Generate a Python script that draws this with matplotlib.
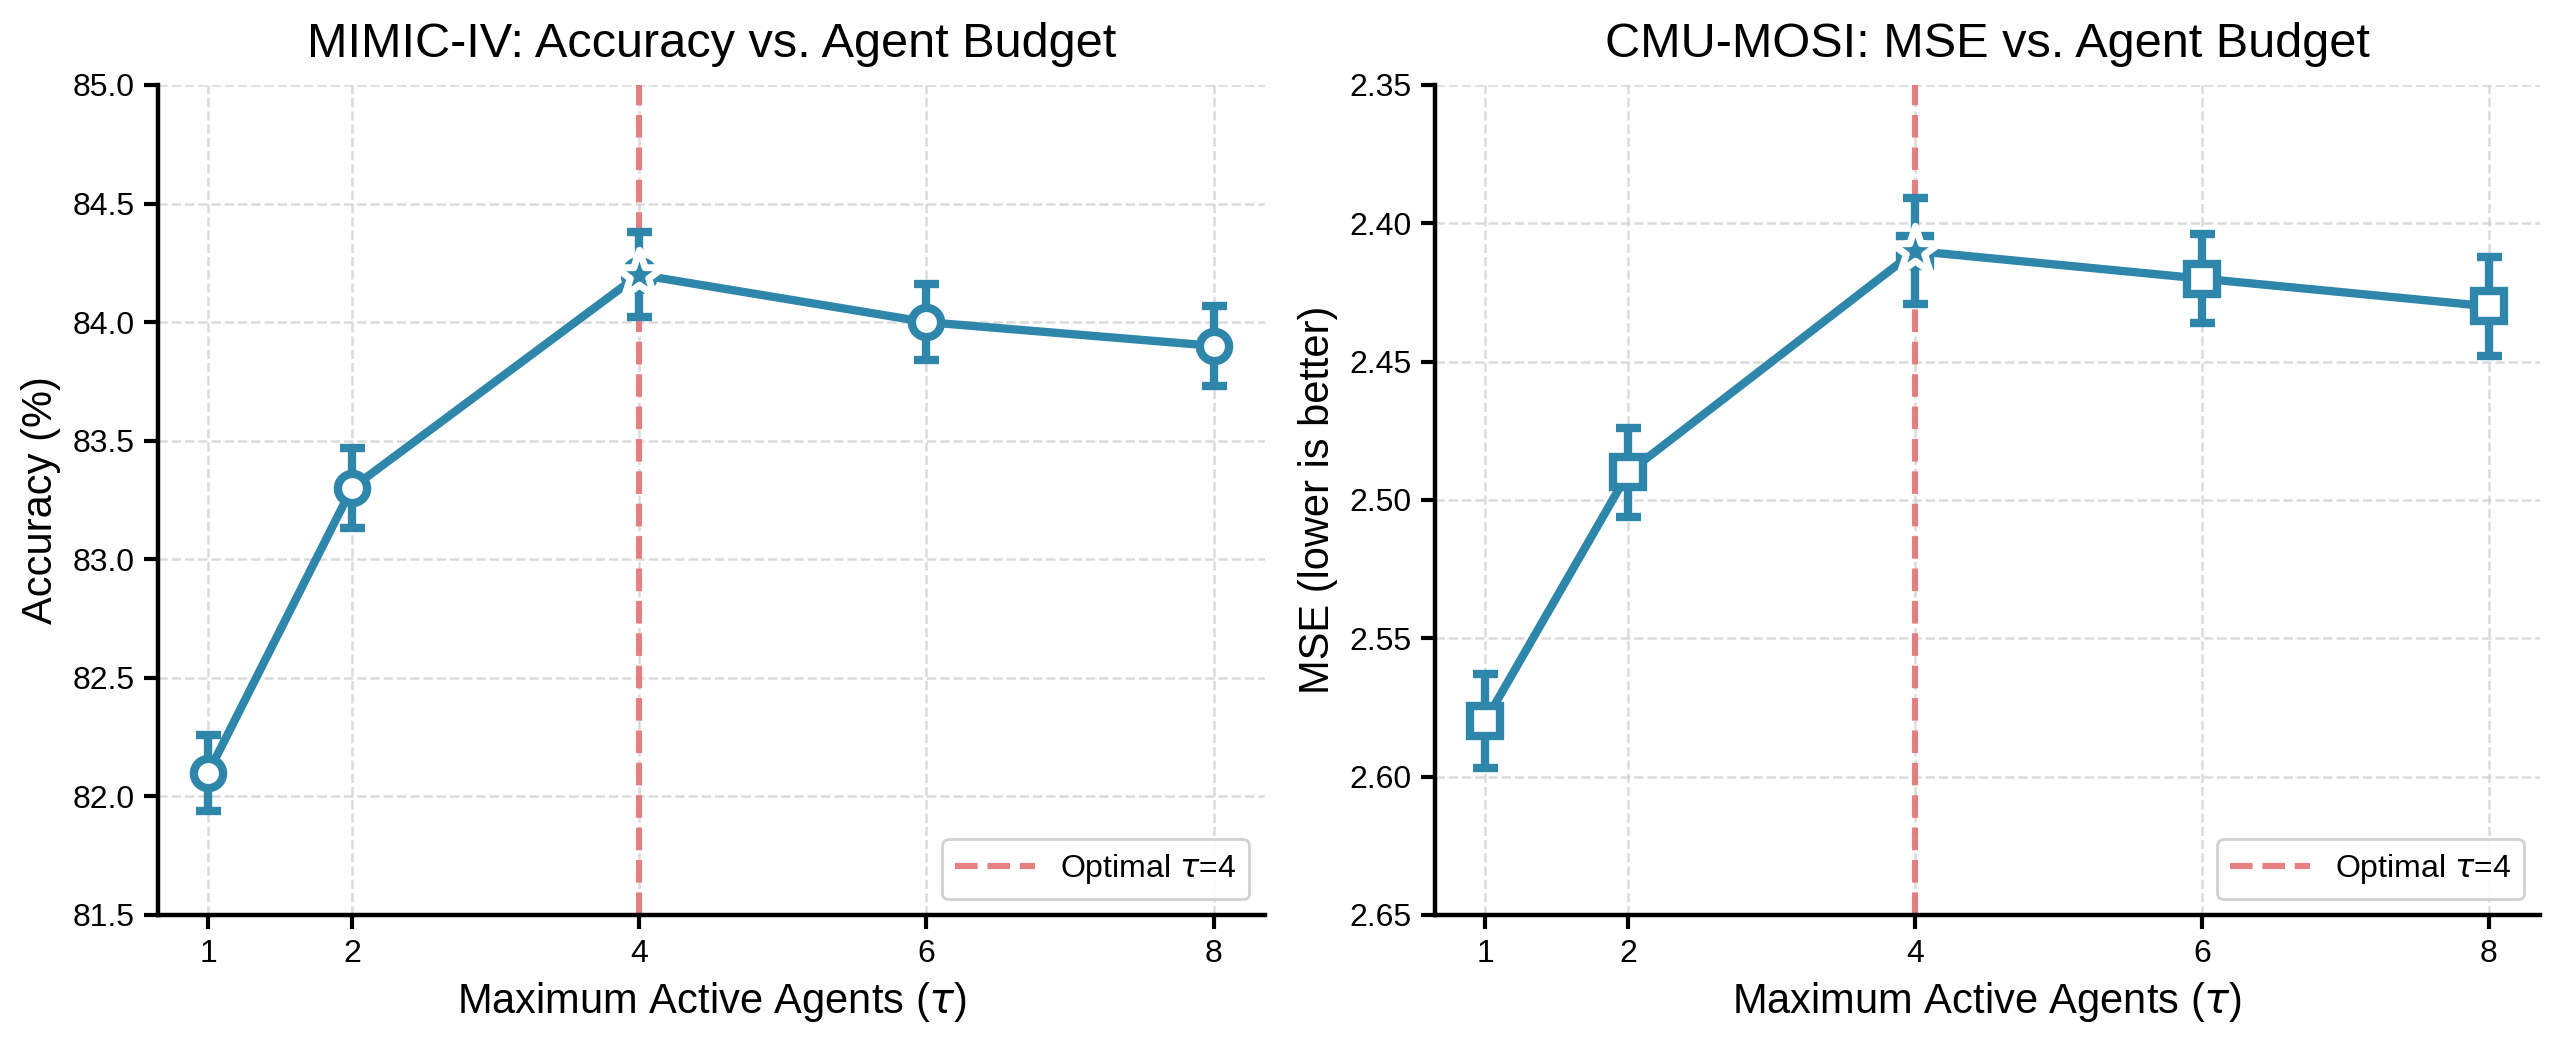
import numpy as np
import matplotlib
matplotlib.use("Agg")
import matplotlib.pyplot as plt

plt.rcParams['font.family'] = ['Liberation Sans', 'DejaVu Sans']
plt.rcParams['mathtext.fontset'] = 'dejavusans'

budgets = [1, 2, 4, 6, 8]
tick_labels = ['1', '2', '4', '6', '8']

mimic_acc = [82.1, 83.3, 84.2, 84.0, 83.9]
mimic_err = [0.16, 0.17, 0.18, 0.16, 0.17]

mosi_mse = [2.58, 2.49, 2.41, 2.42, 2.43]
mosi_err = [0.017, 0.016, 0.019, 0.016, 0.018]

best_tau = 4

blue = '#2E86AB'
red = '#E57373'

fig = plt.figure(figsize=(12.785, 5.22), dpi=200)
ax1 = fig.add_axes([0.0618, 0.1236, 0.4330, 0.795])
ax2 = fig.add_axes([0.5612, 0.1236, 0.4322, 0.795])


def draw(ax, y, err, marker, title, ylabel, ylim, yticks):
    ax.errorbar(budgets, y, yerr=err, color=blue, lw=3, marker=marker,
                ms=10.5, mfc='white', mec=blue, mew=3, capsize=4.5, capthick=3,
                elinewidth=3, zorder=3)
    i = budgets.index(best_tau)
    ax.scatter([budgets[i]], [y[i]], marker='*', s=330, color=blue,
               edgecolors='white', linewidths=2.5, zorder=5)
    ax.axvline(best_tau, color=red, ls='--', lw=2.2, alpha=0.9, zorder=2,
               label=r'Optimal $\tau$=4')
    ax.set_title(title, fontsize=17.5, pad=10)
    ax.set_xlabel(r'Maximum Active Agents ($\tau$)', fontsize=15)
    ax.set_ylabel(ylabel, fontsize=15)
    ax.set_xticks(budgets)
    ax.set_xticklabels(tick_labels)
    ax.set_yticks(yticks)
    ax.set_ylim(*ylim)
    ax.set_xlim(0.65, 8.36)
    ax.tick_params(labelsize=11.5, width=1.5, length=5)
    ax.grid(True, ls='--', color='#cccccc', alpha=0.7, lw=0.9)
    ax.set_axisbelow(True)
    for s in ['top', 'right']:
        ax.spines[s].set_visible(False)
    for s in ['left', 'bottom']:
        ax.spines[s].set_linewidth(1.6)
    ax.legend(loc='lower right', fontsize=11.5, framealpha=0.9,
              edgecolor='#cccccc', handlelength=2.5)


draw(ax1, mimic_acc, mimic_err, 'o', 'MIMIC-IV: Accuracy vs. Agent Budget',
     'Accuracy (%)', (81.5, 85.0), np.arange(81.5, 85.01, 0.5))
ax1.set_yticklabels([f'{v:.1f}' for v in np.arange(81.5, 85.01, 0.5)])

draw(ax2, mosi_mse, mosi_err, 's', 'CMU-MOSI: MSE vs. Agent Budget',
     'MSE (lower is better)', (2.65, 2.35), np.arange(2.35, 2.651, 0.05))
ax2.set_yticklabels([f'{v:.2f}' for v in np.arange(2.35, 2.651, 0.05)])

fig.savefig('out.png', dpi=200)
